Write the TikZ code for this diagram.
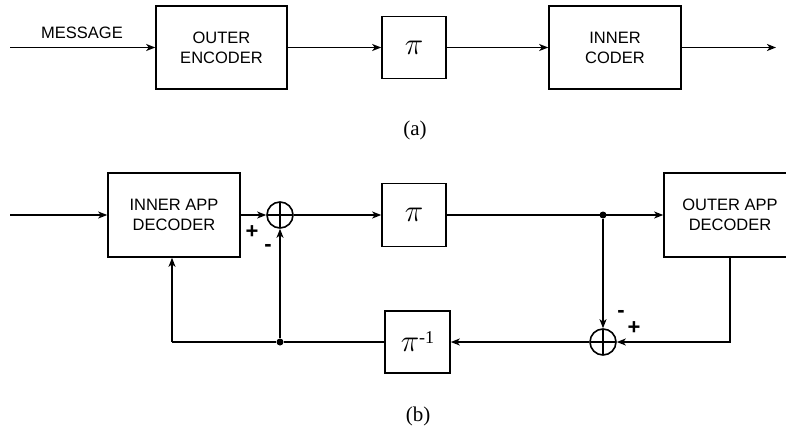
\documentclass[tikz,border=0pt]{standalone}
\usepackage{fontspec}
\setmainfont{Liberation Serif}
\setsansfont{Liberation Sans}
\usetikzlibrary{arrows.meta}

\newcommand{\boxfont}{\sffamily\fontsize{16.5}{20}\selectfont}
\newcommand{\piglyph}{\scalebox{1.8}{$\pi$}}

\tikzset{
  blk/.style={draw, line width=1.6pt, inner sep=0pt, align=center, font=\boxfont},
  arr/.style={line width=1.6pt, -{Stealth[length=9pt,width=7pt,inset=2.5pt]}},
  wire/.style={line width=1.6pt},
  sumnode/.style={draw, circle, line width=1.6pt, minimum size=26pt, inner sep=0pt,
    path picture={\draw[line width=1.4pt]
      (path picture bounding box.north) -- (path picture bounding box.south)
      (path picture bounding box.west) -- (path picture bounding box.east);}},
  junc/.style={circle, fill, inner sep=0pt, minimum size=7pt},
  sgn/.style={inner sep=0pt, font=\sffamily\bfseries\fontsize{22}{24}\selectfont},
  subcap/.style={inner sep=0pt, font=\rmfamily\fontsize{21}{23}\selectfont}
}

\begin{document}
\begin{tikzpicture}[x=1pt, y=-1pt]
  \clip (0,0) rectangle (786,431);

  % (a) encoder chain
  \coordinate (in1) at (10,47.5);
  \coordinate (out1) at (776,47.5);
  \node[inner sep=0pt, font=\boxfont] (msg) at (82,33) {MESSAGE};
  \node[blk, minimum width=131pt, minimum height=83pt] (enc) at (221.5,47.5) {OUTER\\ENCODER};
  \node[blk, minimum width=64pt, minimum height=62pt] (pia) at (414,47.5) {\piglyph};
  \node[blk, minimum width=132pt, minimum height=83pt] (icod) at (615,47.5) {INNER\\CODER};
  \node[subcap] (capa) at (415,130) {(a)};

  \draw[arr] (in1) -- (enc);
  \draw[arr] (enc) -- (pia);
  \draw[arr] (pia) -- (icod);
  \draw[arr] (icod) -- (out1);

  % (b) iterative decoder
  \coordinate (in2) at (10,215);
  \node[blk, minimum width=132pt, minimum height=84pt] (iapp) at (174,215) {INNER APP\\DECODER};
  \node[sumnode] (s1) at (280,215) {};
  \node[blk, minimum width=64pt, minimum height=63pt] (pib) at (414,215) {\piglyph};
  \node[junc] (j1) at (603,215) {};
  \node[blk, minimum width=132pt, minimum height=84pt] (oapp) at (730,215) {OUTER APP\\DECODER};
  \node[sumnode] (s2) at (603,342) {};
  \node[blk, minimum width=65pt, minimum height=62pt] (pinv) at (417.5,342)
    {\piglyph\raisebox{8pt}{\rmfamily\fontsize{18}{20}\selectfont -1}};
  \node[junc] (j2) at (280,342) {};
  \coordinate (c1) at (172,342);
  \coordinate (c2) at (730,342);
  \node[subcap] (capb) at (418,416) {(b)};

  \node[sgn] (p1) at (252,232) {+};
  \node[sgn] (m1) at (268,248) {-};
  \node[sgn] (m2) at (621,314) {-};
  \node[sgn] (p2) at (634,328) {+};

  \draw[arr] (in2) -- (iapp);
  \draw[arr] (iapp) -- (s1);
  \draw[arr] (s1) -- (pib);
  \draw[arr] (pib) -- (oapp);
  \draw[arr] (j1) -- (s2);
  \draw[arr] (oapp.south) -- (c2) -- (s2);
  \draw[arr] (s2) -- (pinv);
  \draw[wire] (pinv) -- (j2) -- (c1);
  \draw[arr] (c1) -- (c1 |- iapp.south);
  \draw[arr] (j2) -- (s1);
\end{tikzpicture}
\end{document}
